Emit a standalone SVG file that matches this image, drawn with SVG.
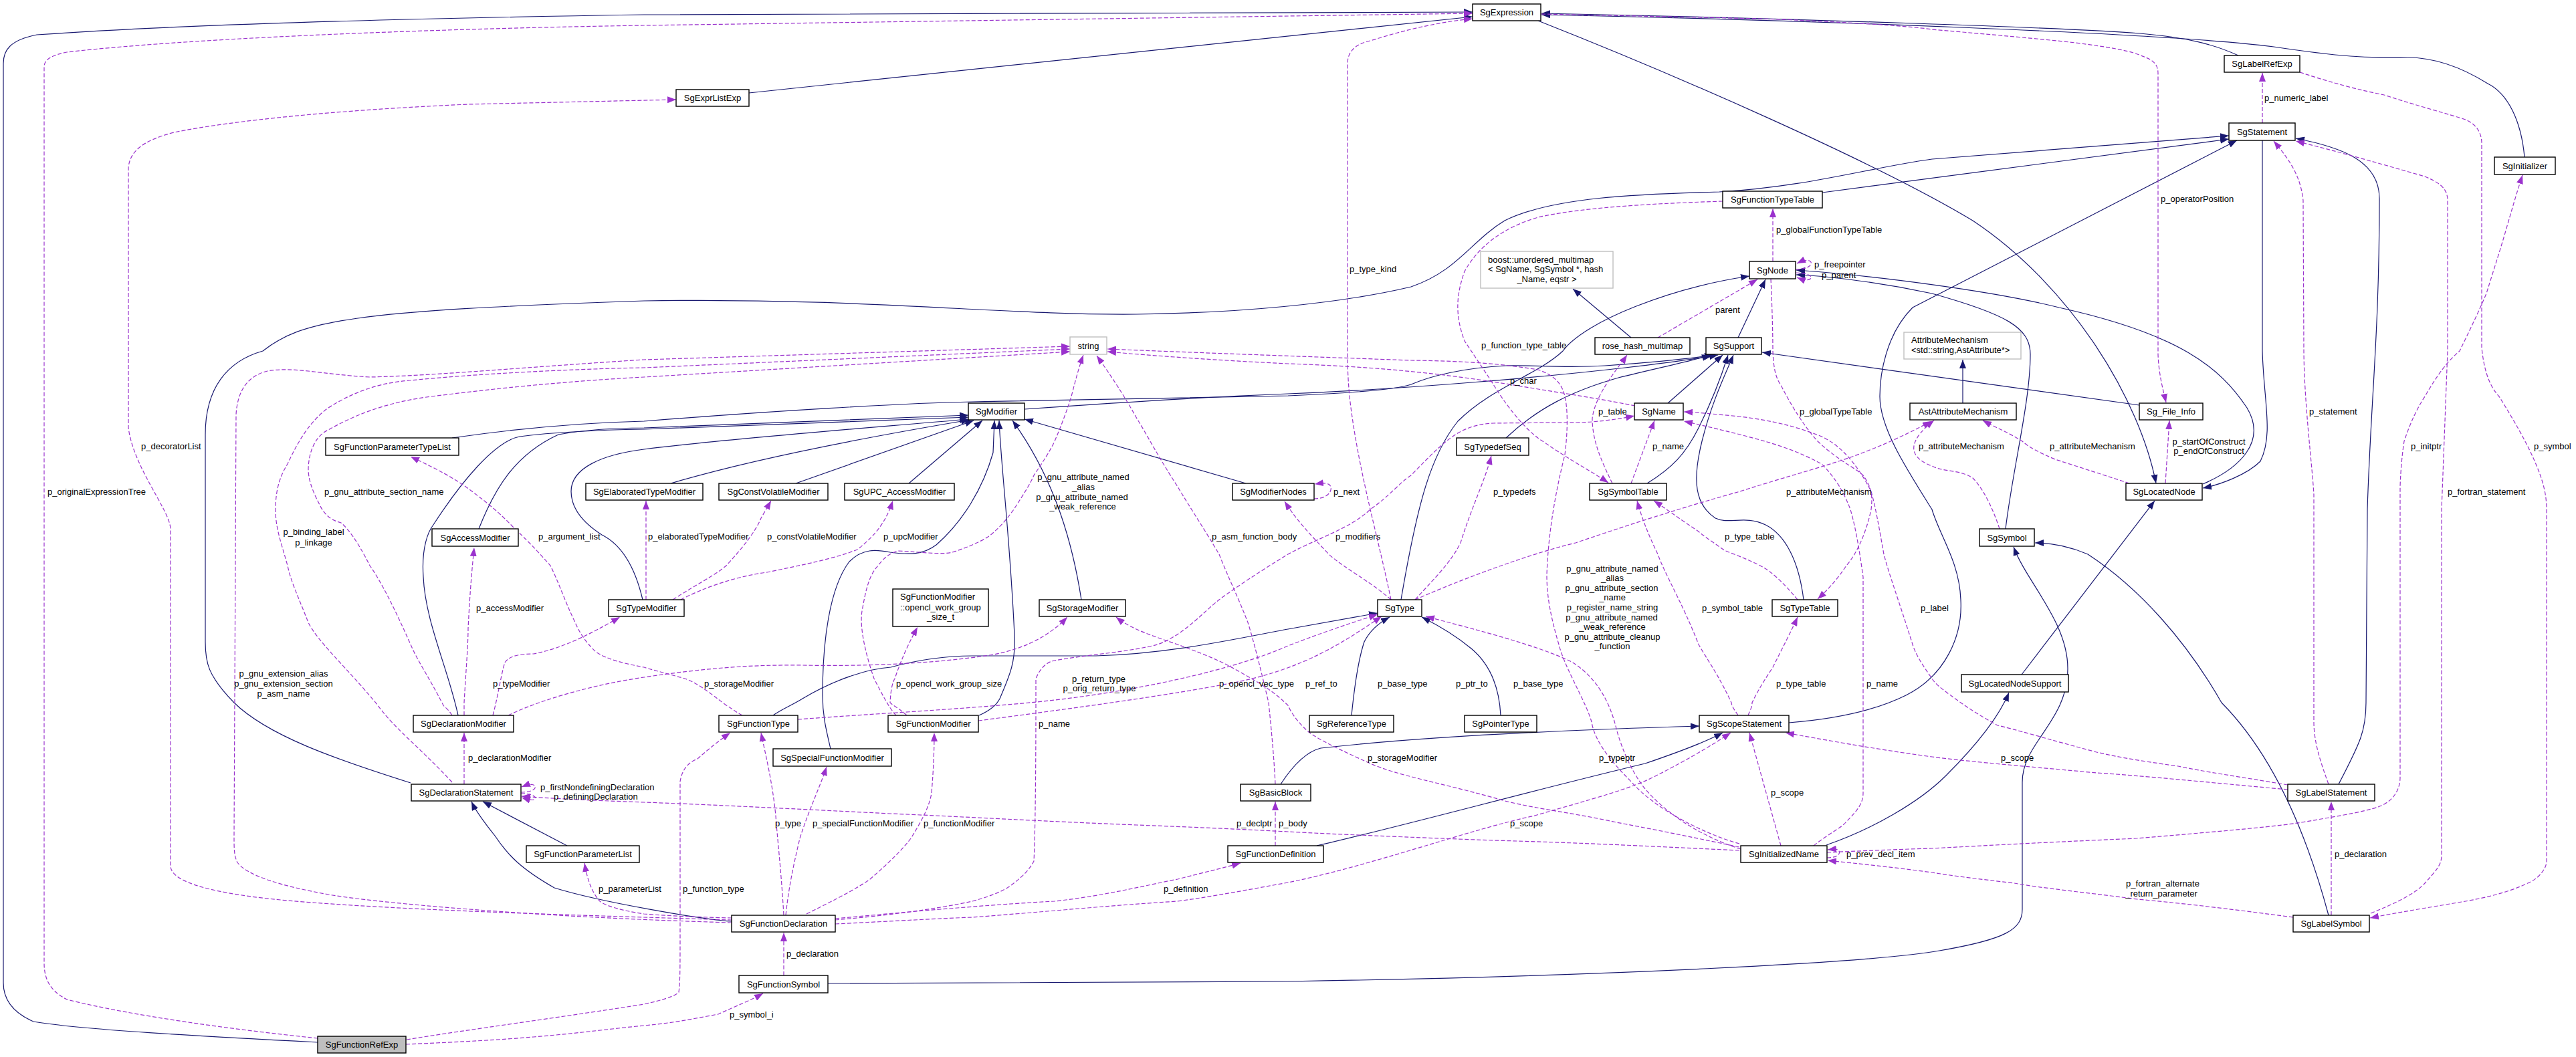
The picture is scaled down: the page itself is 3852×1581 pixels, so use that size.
<svg xmlns="http://www.w3.org/2000/svg" width="3852" height="1581" viewBox="0 0 3852 1581">
<defs>
<style>
.n rect{fill:#fff;stroke:#000;stroke-width:1.4}
.g rect{fill:#fff;stroke:#bfbfbf;stroke-width:1.4}
text{font-family:"Liberation Sans",Arial,sans-serif;font-size:13px;fill:#000}
.n text,.c{text-anchor:middle}
.i{fill:none;stroke:#191970;stroke-width:1.2;marker-end:url(#ai)}
.u{fill:none;stroke:#9a32cd;stroke-width:1.2;stroke-dasharray:6,3;marker-end:url(#au)}
</style>
<marker id="ai" markerWidth="13" markerHeight="10" refX="13" refY="5" orient="auto" markerUnits="userSpaceOnUse"><path d="M0,0 L13,5 L0,10 z" fill="#191970"/></marker>
<marker id="au" markerWidth="13" markerHeight="10" refX="13" refY="5" orient="auto" markerUnits="userSpaceOnUse"><path d="M0,0 L13,5 L0,10 z" fill="#9a32cd"/></marker>
</defs>
<rect width="3852" height="1581" fill="#fff"/>
<g id="edges">
<path class="i" d="M475,1559 C300,1550 120,1540 50,1528 C20,1515 5,1495 5,1470 L5,95 C5,75 15,60 55,52 C300,35 700,26 963,22 L2202,18"/>
<path class="i" d="M1120,139 L2202,25"/>
<path class="i" d="M3347,83 C3310,66 3270,56 3200,50 C3100,42 2700,28 2305,20"/>
<path class="i" d="M3775,235 C3770,180 3750,140 3720,125 C3680,100 3640,86 3600,86 C3540,87 3500,85 3400,70 C3250,50 2700,30 2305,22"/>
<path class="i" d="M2300,31 C2500,110 2800,240 2950,330 C3100,430 3200,600 3224,723"/>
<path class="i" d="M2725,288 L3333,208"/>
<path class="i" d="M614,1171 C500,1135 400,1100 350,1051 C310,1010 307,990 307,960 L307,650 C307,580 340,540 393,525 C450,480 520,465 963,450 C1300,445 1500,472 1700,470 C1850,468 2000,455 2110,429 C2180,405 2200,360 2250,330 C2320,295 2450,290 2571,287 C2700,280 2800,250 2889,238 L3333,203"/>
<path class="i" d="M2675,1081 C2750,1075 2810,1060 2850,1040 C2910,1010 2935,950 2932,897 C2930,840 2900,800 2889,762 C2850,700 2811,640 2811,593 C2811,560 2820,500 2860,460 L3345,210"/>
<path class="i" d="M3497,1173 C3530,1110 3538,1092 3538,1051 L3540,762 C3545,600 3558,500 3558,297 C3558,240 3500,220 3433,207"/>
<path class="i" d="M3383,210 L3383,525 C3385,600 3400,650 3380,690 C3360,710 3320,725 3294,730"/>
<path class="i" d="M3294,724 C3350,700 3390,660 3360,610 C3320,550 3260,500 3079,460 C2980,435 2800,412 2686,404"/>
<path class="i" d="M2999,791 C3010,700 3036,600 3036,530 C3036,490 3000,470 2889,439 C2800,420 2720,412 2686,411"/>
<path class="i" d="M3023,1009 L3222,749"/>
<path class="i" d="M2731,1264 C2800,1240 2870,1200 2910,1160 C2960,1110 2990,1070 3004,1036"/>
<path class="i" d="M3482,1369 C3450,1250 3400,1130 3322,1051 C3270,960 3200,880 3122,829 C3090,815 3060,812 3043,812"/>
<path class="i" d="M1238,1471 L1926,1468 C2400,1460 2800,1440 2900,1422 C3000,1405 3024,1390 3024,1360 L3024,1170 C3024,1110 3092,1080 3092,1000 C3092,930 3030,870 3011,818"/>
<path class="i" d="M2599,505 L2640,418"/>
<path class="i" d="M2095,897 C2120,750 2140,680 2180,630 C2230,580 2300,560 2337,525 C2370,480 2500,430 2616,413"/>
<path class="i" d="M2439,505 L2352,432"/>
<path class="i" d="M676,655 C780,640 880,632 963,630 C1150,615 1350,603 1454,601 C1650,597 1850,594 1926,592 C2020,588 2090,582 2110,575 C2140,562 2190,550 2252,547 C2300,546 2340,551 2400,547 C2470,542 2530,536 2562,531"/>
<path class="i" d="M1532,612 C1700,600 1850,592 1926,589 C2100,582 2300,565 2430,550 C2500,542 2540,536 2569,531"/>
<path class="i" d="M2494,603 L2576,531"/>
<path class="i" d="M2463,723 C2500,700 2520,680 2540,640 C2560,600 2575,560 2584,531"/>
<path class="i" d="M2252,655 C2300,610 2350,585 2420,565 C2480,550 2530,540 2558,531"/>
<path class="i" d="M2697,897 C2690,840 2670,800 2640,785 C2610,770 2585,785 2565,775 C2535,755 2530,720 2545,660 C2560,600 2580,560 2592,531"/>
<path class="i" d="M3199,606 L2635,527"/>
<path class="i" d="M2935,603 L2935,538"/>
<path class="i" d="M1003,723 C1080,700 1200,670 1450,628"/>
<path class="i" d="M1190,723 L1456,629"/>
<path class="i" d="M1359,723 L1469,629"/>
<path class="i" d="M1863,723 L1532,627"/>
<path class="i" d="M1617,897 C1605,820 1580,720 1514,629"/>
<path class="i" d="M1464,1070 C1480,1063 1490,1055 1495,1045 C1510,1010 1519,990 1517,950 C1510,800 1497,700 1494,629"/>
<path class="i" d="M1242,1120 C1235,1090 1230,1070 1230,1040 C1230,960 1240,880 1270,840 C1290,820 1310,822 1331,826 C1360,830 1380,830 1400,815 C1440,780 1470,730 1485,677 L1487,629"/>
<path class="i" d="M961,897 C950,850 930,815 900,800 C872,782 854,760 854,735 C854,700 900,680 963,672 C1100,655 1300,640 1448,627"/>
<path class="i" d="M716,791 C740,730 770,680 835,650 C880,642 920,640 963,640 L1448,621"/>
<path class="i" d="M685,1070 C670,1000 636,930 633,863 C630,820 640,795 648,785 C690,720 740,660 777,653 C840,645 900,643 963,642 L1448,624"/>
<path class="i" d="M1156,1070 C1170,1060 1184,1055 1200,1045 C1250,1015 1300,1000 1332,998 C1380,985 1420,981 1454,981 L1639,981 C1750,978 1850,955 1926,941 L2060,917"/>
<path class="i" d="M2021,1070 C2024,1040 2030,990 2040,960 C2050,940 2065,930 2078,923"/>
<path class="i" d="M2244,1070 C2242,1030 2230,995 2200,970 C2170,945 2140,930 2126,923"/>
<path class="i" d="M1915,1173 C1930,1150 1950,1125 1975,1119 C2100,1105 2300,1093 2541,1086"/>
<path class="i" d="M1969,1265 C2100,1235 2300,1180 2460,1142 C2510,1125 2550,1110 2576,1096"/>
<path class="i" d="M848,1265 L722,1199"/>
<path class="i" d="M1094,1378 C1050,1375 900,1350 829,1328 C780,1300 760,1280 740,1250 C720,1225 710,1210 705,1199"/>
<path class="u" d="M475,1553 C350,1540 200,1520 100,1495 C75,1482 66,1465 66,1440 L66,100 C66,88 80,82 100,78 C300,55 700,42 963,38 L2202,20"/>
<path class="u" d="M1094,1376 C900,1370 600,1362 430,1347 C320,1337 255,1320 255,1295 L255,790 C252,760 200,700 192,640 L192,250 C195,225 215,210 260,198 C350,180 500,165 700,156 L1011,149"/>
<path class="u" d="M1094,1380 C800,1372 560,1350 491,1338 C420,1325 370,1310 355,1290 C350,1280 350,1270 350,1250 L353,620 C355,585 370,562 400,555 C440,548 480,560 553,564 C650,562 800,548 963,538 L1600,518"/>
<path class="u" d="M676,1170 C630,1120 590,1090 565,1055 C520,1000 475,960 461,931 C445,890 435,870 430,846 C420,810 412,790 412,762 C412,730 420,710 430,694 C450,650 470,625 491,610 C530,585 570,572 614,569 C700,560 850,552 963,550 L1600,522"/>
<path class="u" d="M676,1070 C670,1060 665,1058 663,1055 C640,1010 625,990 614,964 C590,910 570,870 553,846 C535,810 520,790 510,782 C495,778 485,770 478,755 C465,730 461,715 461,701 C462,670 475,650 491,643 C540,615 590,600 645,593 C750,580 850,570 963,564 L1600,526"/>
<path class="u" d="M694,1070 L694,1051 C697,1000 700,964 700,940 C703,880 706,850 709,819"/>
<path class="u" d="M737,1070 C745,1040 750,1005 755,991 C762,980 780,978 798,978 C840,970 880,950 927,923"/>
<path class="u" d="M760,1070 C800,1050 880,1025 963,1013 C1050,1000 1120,994 1200,995 C1300,997 1400,992 1480,980 C1540,970 1575,945 1596,923"/>
<path class="u" d="M966,897 L966,749"/>
<path class="u" d="M1006,897 C1040,875 1070,860 1086,846 C1110,820 1130,795 1138,775 L1153,749"/>
<path class="u" d="M1018,897 C1050,880 1100,862 1147,856 C1200,845 1250,835 1282,822 C1310,800 1325,780 1335,749"/>
<path class="u" d="M1110,1070 C1100,1065 1095,1060 1086,1055 C1060,1035 1040,1020 1024,1015 C1000,1008 975,1002 963,998 C930,992 905,985 891,975 C875,960 866,945 860,931 C845,900 835,870 823,846 C800,820 785,805 768,789 C740,760 725,750 706,735 C680,715 650,700 614,683"/>
<path class="u" d="M1193,1076 C1300,1068 1450,1060 1550,1050 C1700,1035 1850,1000 1926,966 C1980,945 2020,932 2060,919"/>
<path class="u" d="M1463,1078 C1600,1060 1750,1040 1850,1020 C1950,1000 2010,960 2066,922"/>
<path class="u" d="M1356,1070 C1345,1060 1335,1055 1331,1051 C1332,1030 1335,1020 1338,1015 C1350,980 1360,960 1372,938"/>
<path class="u" d="M1340,1070 C1330,1060 1320,1040 1307,1015 C1295,980 1285,940 1289,914 C1295,880 1300,860 1313,846 C1325,830 1335,826 1344,824 C1380,826 1410,830 1424,826 C1450,818 1470,808 1479,802 C1500,785 1510,770 1516,762 C1530,740 1540,725 1546,711 C1560,690 1570,675 1577,660 C1590,630 1600,600 1602,593 C1608,570 1613,550 1620,531"/>
<path class="u" d="M1907,1173 C1905,1130 1900,1080 1897,1051 C1885,1000 1875,960 1866,931 C1850,890 1835,860 1823,829 C1800,790 1780,760 1761,728 C1730,680 1715,650 1700,626 C1680,590 1660,560 1640,532"/>
<path class="u" d="M1965,746 C1985,746 1992,735 1990,728 C1988,722 1980,722 1966,724"/>
<path class="u" d="M2080,897 C2050,870 2010,850 1987,829 C1960,800 1940,780 1921,750"/>
<path class="u" d="M2116,897 C2150,860 2170,840 2184,812 C2200,760 2220,720 2230,682"/>
<path class="u" d="M2080,897 C2060,800 2030,700 2018,593 C2015,560 2015,540 2015,520 L2015,95 C2015,75 2030,65 2049,61 C2100,45 2150,33 2202,28"/>
<path class="u" d="M2576,301 C2450,305 2356,312 2300,325 C2245,341 2210,370 2190,406 C2178,440 2175,470 2190,510 C2200,525 2210,540 2230,570 C2260,620 2290,650 2307,660 C2350,690 2380,705 2405,722"/>
<path class="u" d="M2411,723 C2395,690 2381,660 2381,626 C2385,590 2420,550 2433,531"/>
<path class="u" d="M2479,505 L2628,418"/>
<path class="u" d="M2685,403 C2700,403 2710,398 2708,392 C2706,388 2697,389 2687,394"/>
<path class="u" d="M2685,408 C2700,408 2710,412 2708,416 C2706,420 2697,419 2687,415"/>
<path class="u" d="M2651,391 L2651,312"/>
<path class="u" d="M2648,417 C2650,460 2651,500 2651,525 C2652,550 2655,565 2663,576 C2680,610 2700,640 2718,660 C2750,690 2775,700 2786,711 C2800,730 2800,745 2798,762 C2790,800 2775,830 2761,846 C2745,870 2730,885 2718,896"/>
<path class="u" d="M2116,897 C2200,860 2300,825 2356,812 C2450,780 2530,755 2602,735 C2680,710 2740,695 2786,677 C2830,660 2860,645 2888,630"/>
<path class="u" d="M2990,791 C2980,760 2965,730 2950,715 C2930,702 2905,706 2889,697 C2870,690 2860,680 2862,667 C2864,655 2875,642 2892,629"/>
<path class="u" d="M3184,723 C3160,715 3135,707 3073,687 C3050,677 3035,670 3024,660 C3000,645 2985,640 2965,629"/>
<path class="u" d="M3238,723 L3244,629"/>
<path class="u" d="M2305,21 C2450,24 2600,27 2663,29 C2750,33 2850,38 2889,44 C2980,52 3050,58 3104,64 C3150,70 3180,75 3196,81 C3215,88 3227,92 3227,110 L3227,530 C3228,560 3235,585 3239,602"/>
<path class="u" d="M3383,184 L3383,109"/>
<path class="u" d="M3439,108 C3490,125 3530,135 3565,142 C3620,160 3660,170 3687,179 C3700,185 3711,195 3711,215 L3711,520 C3715,560 3725,580 3737,593 C3760,630 3780,665 3792,694 C3803,720 3808,740 3808,762 L3808,1288 C3808,1300 3795,1315 3780,1321 C3750,1335 3720,1342 3687,1348 C3640,1356 3590,1364 3544,1373"/>
<path class="u" d="M2732,1275 C2800,1272 2850,1270 2889,1269 C3000,1263 3100,1258 3196,1254 C3300,1245 3400,1237 3442,1230 C3500,1220 3550,1212 3565,1203 C3580,1195 3589,1180 3589,1163 L3589,728 C3590,700 3592,680 3595,660 C3605,630 3615,610 3626,593 C3645,560 3660,540 3678,525 C3690,500 3705,470 3718,439 C3730,400 3740,370 3749,338 C3760,300 3766,280 3772,262"/>
<path class="u" d="M3545,1366 C3580,1352 3610,1338 3626,1321 C3640,1305 3651,1295 3651,1280 L3651,762 L3660,525 L3660,300 C3660,280 3645,272 3626,264 C3560,245 3490,225 3433,211"/>
<path class="u" d="M3482,1173 C3470,1140 3460,1110 3460,1080 L3460,740 C3458,700 3445,600 3445,520 L3444,300 C3440,260 3420,235 3400,211"/>
<path class="u" d="M3421,1174 C3350,1162 3300,1155 3257,1146 C3200,1138 3170,1133 3135,1125 C3060,1105 3010,1090 2987,1085 C2960,1070 2945,1060 2932,1051 C2910,1035 2895,1025 2889,1015 C2875,995 2865,980 2860,964 C2840,900 2825,860 2817,829 C2810,790 2805,760 2798,735 C2775,690 2750,665 2724,653 C2680,635 2640,628 2602,623 C2570,620 2540,617 2518,616"/>
<path class="u" d="M3421,1181 C3300,1170 3200,1160 3135,1156 C3050,1148 2950,1140 2889,1132 C2800,1120 2720,1105 2670,1096"/>
<path class="u" d="M2663,1265 L2616,1096"/>
<path class="u" d="M1249,1382 C1350,1377 1400,1374 1454,1372 C1550,1365 1650,1355 1761,1348 C1820,1340 1870,1330 1926,1320 C2050,1295 2200,1240 2295,1220 C2380,1195 2440,1180 2479,1159 C2520,1138 2560,1115 2588,1096"/>
<path class="u" d="M1249,1374 C1400,1360 1500,1352 1577,1348 C1650,1340 1710,1325 1761,1315 C1800,1305 1830,1298 1855,1291"/>
<path class="u" d="M1172,1459 L1172,1395"/>
<path class="u" d="M607,1562 C700,1558 750,1555 798,1551 C870,1545 920,1538 963,1534 C1010,1530 1045,1522 1074,1517 C1100,1505 1125,1495 1141,1486"/>
<path class="u" d="M608,1555 C700,1540 850,1520 963,1502 C990,1496 1010,1490 1015,1484 C1017,1470 1017,1450 1017,1389 L1017,1169 C1020,1150 1030,1140 1043,1135 C1060,1120 1075,1108 1092,1096"/>
<path class="u" d="M1172,1369 C1168,1300 1162,1250 1160,1220 C1155,1170 1145,1130 1138,1096"/>
<path class="u" d="M1175,1369 C1180,1320 1190,1280 1196,1254 C1210,1210 1225,1180 1236,1147"/>
<path class="u" d="M1206,1367 C1250,1345 1280,1330 1301,1315 C1330,1290 1350,1270 1362,1254 C1380,1225 1390,1205 1393,1186 C1396,1150 1397,1120 1397,1096"/>
<path class="u" d="M1249,1376 C1320,1370 1400,1360 1454,1348 C1490,1338 1505,1330 1516,1321 C1530,1310 1540,1300 1546,1288 C1548,1250 1549,1150 1549,1051 L1549,1015 C1555,1000 1565,990 1577,988 C1620,980 1690,975 1731,964 C1770,950 1800,915 1823,897 C1860,870 1900,845 1926,829 C1970,805 2020,790 2049,762 C2080,740 2095,720 2110,711 C2140,680 2155,665 2172,653 C2190,640 2210,634 2233,633 C2300,632 2356,633 2380,631 C2405,629 2425,626 2444,622"/>
<path class="u" d="M2712,1265 C2730,1250 2755,1237 2760,1230 C2780,1210 2786,1200 2786,1186 L2786,863 C2780,820 2775,790 2767,762 C2755,730 2740,710 2724,694 C2680,670 2640,660 2602,650 C2570,642 2545,636 2518,630"/>
<path class="u" d="M2439,723 L2474,629"/>
<path class="u" d="M2688,897 C2670,875 2650,855 2632,846 C2600,830 2580,825 2577,822 C2560,810 2545,800 2540,795 C2510,775 2490,760 2473,749"/>
<path class="u" d="M2599,1070 C2594,1062 2590,1058 2589,1051 C2570,1010 2555,990 2540,964 C2515,900 2490,860 2479,829 C2465,800 2455,775 2448,749"/>
<path class="u" d="M2614,1070 C2617,1062 2620,1058 2620,1051 C2630,1030 2640,1015 2651,998 C2665,970 2678,945 2688,923"/>
<path class="u" d="M2603,1270 C2540,1250 2490,1215 2460,1180 C2440,1155 2425,1120 2417,1090 C2405,1040 2380,1008 2350,990 C2300,965 2200,940 2132,922"/>
<path class="u" d="M2601,1262 C2540,1245 2470,1205 2440,1170 C2410,1140 2385,1110 2380,1080 C2372,1050 2340,1000 2331,964 C2318,920 2313,890 2313,860 C2315,800 2325,740 2340,680 C2345,640 2344,610 2340,593 C2335,570 2320,560 2300,553 C2250,545 2200,540 2110,539 C2000,535 1800,528 1656,522"/>
<path class="u" d="M2445,607 C2400,598 2350,590 2300,582 C2200,565 2100,550 1926,544 C1800,538 1700,530 1656,526"/>
<path class="u" d="M2601,1267 C2520,1250 2470,1240 2417,1230 C2350,1215 2280,1208 2233,1193 C2150,1170 2090,1160 2049,1142 C2000,1120 1970,1105 1957,1095 C1940,1080 1930,1065 1926,1055 C1900,1030 1880,1020 1854,1005 C1820,985 1790,975 1761,964 C1720,950 1690,940 1669,923"/>
<path class="u" d="M2601,1272 C2450,1265 2350,1260 2233,1257 C2100,1252 2000,1248 1926,1244 C1850,1240 1780,1237 1700,1234 C1550,1228 1450,1222 1332,1217 C1150,1208 1050,1203 963,1200 C880,1197 820,1194 780,1191"/>
<path class="u" d="M1907,1265 L1907,1199"/>
<path class="u" d="M1094,1373 C1050,1372 1000,1370 963,1367 C930,1362 905,1355 897,1348 C885,1335 878,1315 874,1291"/>
<path class="u" d="M694,1173 L694,1096"/>
<path class="u" d="M779,1185 C795,1185 802,1180 800,1176 C798,1172 790,1173 780,1177"/>
<path class="u" d="M779,1187 C795,1187 802,1191 800,1195 C798,1198 790,1196 780,1193"/>
<path class="u" d="M3486,1369 L3486,1199"/>
<path class="u" d="M3429,1372 C3300,1355 3250,1350 3196,1345 C3120,1335 3050,1328 3012,1321 C2960,1315 2920,1310 2889,1305 C2830,1297 2780,1292 2733,1287"/>
<path class="u" d="M2732,1283 C2748,1283 2752,1277 2750,1273 C2748,1269 2742,1270 2733,1271"/>
</g>
<g id="labels">
<text x="71" y="740">p_originalExpressionTree</text>
<text x="211" y="672">p_decoratorList</text>
<text class="c" x="424" y="1012">p_gnu_extension_alias</text>
<text class="c" x="424" y="1027">p_gnu_extension_section</text>
<text class="c" x="424" y="1042">p_asm_name</text>
<text class="c" x="469" y="800">p_binding_label</text>
<text class="c" x="469" y="816">p_linkage</text>
<text x="485" y="740">p_gnu_attribute_section_name</text>
<text x="805" y="807">p_argument_list</text>
<text x="712" y="914">p_accessModifier</text>
<text x="737" y="1027">p_typeModifier</text>
<text x="969" y="807">p_elaboratedTypeModifier</text>
<text x="1147" y="807">p_constVolatileModifier</text>
<text x="1321" y="807">p_upcModifier</text>
<text class="c" x="1620" y="718">p_gnu_attribute_named</text>
<text class="c" x="1620" y="733">_alias</text>
<text class="c" x="1618" y="748">p_gnu_attribute_named</text>
<text class="c" x="1619" y="762">_weak_reference</text>
<text x="1812" y="807">p_asm_function_body</text>
<text x="1053" y="1027">p_storageModifier</text>
<text x="1340" y="1027">p_opencl_work_group_size</text>
<text class="c" x="1643" y="1020">p_return_type</text>
<text class="c" x="1644" y="1034">p_orig_return_type</text>
<text x="1823" y="1027">p_opencl_vec_type</text>
<text x="2018" y="407">p_type_kind</text>
<text x="2215" y="521">p_function_type_table</text>
<text x="2656" y="348">p_globalFunctionTypeTable</text>
<text x="2565" y="468">parent</text>
<text x="2713" y="400">p_freepointer</text>
<text x="2724" y="416">p_parent</text>
<text x="2258" y="574">p_char</text>
<text x="2390" y="620">p_table</text>
<text x="2691" y="620">p_globalTypeTable</text>
<text x="1994" y="740">p_next</text>
<text x="2233" y="740">p_typedefs</text>
<text x="2471" y="672">p_name</text>
<text x="2671" y="740">p_attributeMechanism</text>
<text x="2869" y="672">p_attributeMechanism</text>
<text x="3065" y="672">p_attributeMechanism</text>
<text class="c" x="3303" y="665">p_startOfConstruct</text>
<text class="c" x="3303" y="679">p_endOfConstruct</text>
<text x="3231" y="302">p_operatorPosition</text>
<text x="3386" y="151">p_numeric_label</text>
<text x="3453" y="620">p_statement</text>
<text x="3605" y="672">p_initptr</text>
<text x="3789" y="672">p_symbol</text>
<text x="3660" y="740">p_fortran_statement</text>
<text x="1997" y="807">p_modifiers</text>
<text x="2579" y="807">p_type_table</text>
<text class="c" x="2411" y="855">p_gnu_attribute_named</text>
<text class="c" x="2411" y="869">_alias</text>
<text class="c" x="2410" y="884">p_gnu_attribute_section</text>
<text class="c" x="2411" y="898">_name</text>
<text class="c" x="2411" y="913">p_register_name_string</text>
<text class="c" x="2410" y="928">p_gnu_attribute_named</text>
<text class="c" x="2411" y="942">_weak_reference</text>
<text class="c" x="2411" y="957">p_gnu_attribute_cleanup</text>
<text class="c" x="2411" y="971">_function</text>
<text x="2545" y="914">p_symbol_table</text>
<text x="2872" y="914">p_label</text>
<text x="1952" y="1027">p_ref_to</text>
<text x="2060" y="1027">p_base_type</text>
<text x="2177" y="1027">p_ptr_to</text>
<text x="2263" y="1027">p_base_type</text>
<text x="2656" y="1027">p_type_table</text>
<text x="2791" y="1027">p_name</text>
<text x="700" y="1138">p_declarationModifier</text>
<text x="2045" y="1138">p_storageModifier</text>
<text x="2391" y="1138">p_typeptr</text>
<text x="2992" y="1138">p_scope</text>
<text x="808" y="1182">p_firstNondefiningDeclaration</text>
<text x="828" y="1196">p_definingDeclaration</text>
<text x="1553" y="1087">p_name</text>
<text x="1159" y="1236">p_type</text>
<text x="1215" y="1236">p_specialFunctionModifier</text>
<text x="1381" y="1236">p_functionModifier</text>
<text x="1849" y="1236">p_declptr</text>
<text x="1912" y="1236">p_body</text>
<text x="2258" y="1236">p_scope</text>
<text x="2648" y="1190">p_scope</text>
<text x="2761" y="1282">p_prev_decl_item</text>
<text x="3491" y="1282">p_declaration</text>
<text class="c" x="3234" y="1326">p_fortran_alternate</text>
<text class="c" x="3232" y="1341">_return_parameter</text>
<text x="895" y="1334">p_parameterList</text>
<text x="1021" y="1334">p_function_type</text>
<text x="1740" y="1334">p_definition</text>
<text x="1176" y="1431">p_declaration</text>
<text x="1091" y="1522">p_symbol_i</text>
</g>
<g id="n_SgFunctionRefExp" class="n"><rect x="475" y="1550" width="132" height="25" style="fill:#bfbfbf"/><text x="541" y="1567">SgFunctionRefExp</text></g>
<g id="n_SgExpression" class="n"><rect x="2202" y="6" width="102" height="25"/><text x="2253" y="23">SgExpression</text></g>
<g id="n_SgExprListExp" class="n"><rect x="1011" y="134" width="109" height="25"/><text x="1065.5" y="151">SgExprListExp</text></g>
<g id="n_SgLabelRefExp" class="n"><rect x="3326" y="83" width="113" height="25"/><text x="3382.5" y="100">SgLabelRefExp</text></g>
<g id="n_SgStatement" class="n"><rect x="3333" y="184" width="99" height="26"/><text x="3382.5" y="201.5">SgStatement</text></g>
<g id="n_SgInitializer" class="n"><rect x="3730" y="235" width="91" height="26"/><text x="3775.5" y="252.5">SgInitializer</text></g>
<g id="n_SgFunctionTypeTable" class="n"><rect x="2576" y="286" width="149" height="25"/><text x="2650.5" y="303">SgFunctionTypeTable</text></g>
<g id="n_boost" class="g"><rect x="2214" y="376" width="198" height="55"/><text x="2225" y="393">boost::unordered_multimap</text><text x="2225" y="407">&lt; SgName, SgSymbol *, hash</text><text class="c" x="2313" y="422">_Name, eqstr &gt;</text></g>
<g id="n_SgNode" class="n"><rect x="2616" y="391" width="69" height="26"/><text x="2650.5" y="408.5">SgNode</text></g>
<g id="n_rose_hash_multimap" class="n"><rect x="2385" y="505" width="142" height="25"/><text x="2456" y="522">rose_hash_multimap</text></g>
<g id="n_SgSupport" class="n"><rect x="2551" y="505" width="83" height="25"/><text x="2592.5" y="522">SgSupport</text></g>
<g id="n_AttributeMechanism" class="g"><rect x="2847" y="497" width="175" height="40"/><text x="2858" y="513">AttributeMechanism</text><text x="2858" y="528">&lt;std::string,AstAttribute*&gt;</text></g>
<g id="n_string" class="g"><rect x="1600" y="504" width="55" height="26"/><text class="c" x="1627.5" y="521.5">string</text></g>
<g id="n_SgFunctionParameterTypeList" class="n"><rect x="487" y="655" width="199" height="26"/><text x="586.5" y="672.5">SgFunctionParameterTypeList</text></g>
<g id="n_SgAccessModifier" class="n"><rect x="646" y="791" width="129" height="26"/><text x="710.5" y="808.5">SgAccessModifier</text></g>
<g id="n_SgElaboratedTypeModifier" class="n"><rect x="876" y="723" width="175" height="25"/><text x="963.5" y="740">SgElaboratedTypeModifier</text></g>
<g id="n_SgConstVolatileModifier" class="n"><rect x="1075" y="723" width="163" height="25"/><text x="1156.5" y="740">SgConstVolatileModifier</text></g>
<g id="n_SgUPC_AccessModifier" class="n"><rect x="1263" y="723" width="164" height="25"/><text x="1345" y="740">SgUPC_AccessModifier</text></g>
<g id="n_SgModifier" class="n"><rect x="1448" y="603" width="84" height="25"/><text x="1490" y="620">SgModifier</text></g>
<g id="n_SgModifierNodes" class="n"><rect x="1843" y="723" width="122" height="25"/><text x="1904" y="740">SgModifierNodes</text></g>
<g id="n_SgTypeModifier" class="n"><rect x="910" y="897" width="113" height="25"/><text x="966.5" y="914">SgTypeModifier</text></g>
<g id="n_opencl_work_group_size_t" class="n"><rect x="1335" y="881" width="143" height="56"/><text x="1346" y="897" style="text-anchor:start">SgFunctionModifier</text><text x="1346" y="913" style="text-anchor:start">::opencl_work_group</text><text x="1406.5" y="927">_size_t</text></g>
<g id="n_SgStorageModifier" class="n"><rect x="1554" y="897" width="129" height="25"/><text x="1618.5" y="914">SgStorageModifier</text></g>
<g id="n_SgName" class="n"><rect x="2444" y="603" width="73" height="25"/><text x="2480.5" y="620">SgName</text></g>
<g id="n_SgTypedefSeq" class="n"><rect x="2178" y="655" width="108" height="26"/><text x="2232" y="672.5">SgTypedefSeq</text></g>
<g id="n_SgSymbolTable" class="n"><rect x="2377" y="723" width="115" height="25"/><text x="2434.5" y="740">SgSymbolTable</text></g>
<g id="n_SgType" class="n"><rect x="2060" y="897" width="66" height="25"/><text x="2093" y="914">SgType</text></g>
<g id="n_SgTypeTable" class="n"><rect x="2650" y="897" width="98" height="25"/><text x="2699" y="914">SgTypeTable</text></g>
<g id="n_AstAttributeMechanism" class="n"><rect x="2856" y="603" width="159" height="25"/><text x="2935.5" y="620">AstAttributeMechanism</text></g>
<g id="n_Sg_File_Info" class="n"><rect x="3199" y="603" width="95" height="25"/><text x="3246.5" y="620">Sg_File_Info</text></g>
<g id="n_SgLocatedNode" class="n"><rect x="3179" y="723" width="114" height="25"/><text x="3236" y="740">SgLocatedNode</text></g>
<g id="n_SgSymbol" class="n"><rect x="2960" y="791" width="82" height="26"/><text x="3001" y="808.5">SgSymbol</text></g>
<g id="n_SgLocatedNodeSupport" class="n"><rect x="2933" y="1009" width="160" height="26"/><text x="3013" y="1026.5">SgLocatedNodeSupport</text></g>
<g id="n_SgDeclarationModifier" class="n"><rect x="618" y="1070" width="150" height="25"/><text x="693" y="1087">SgDeclarationModifier</text></g>
<g id="n_SgDeclarationStatement" class="n"><rect x="615" y="1173" width="164" height="25"/><text x="697" y="1190">SgDeclarationStatement</text></g>
<g id="n_SgFunctionParameterList" class="n"><rect x="787" y="1265" width="169" height="25"/><text x="871.5" y="1282">SgFunctionParameterList</text></g>
<g id="n_SgFunctionType" class="n"><rect x="1075" y="1070" width="118" height="25"/><text x="1134" y="1087">SgFunctionType</text></g>
<g id="n_SgFunctionModifier" class="n"><rect x="1328" y="1070" width="135" height="25"/><text x="1395.5" y="1087">SgFunctionModifier</text></g>
<g id="n_SgSpecialFunctionModifier" class="n"><rect x="1156" y="1120" width="177" height="26"/><text x="1244.5" y="1137.5">SgSpecialFunctionModifier</text></g>
<g id="n_SgBasicBlock" class="n"><rect x="1855" y="1173" width="105" height="25"/><text x="1907.5" y="1190">SgBasicBlock</text></g>
<g id="n_SgFunctionDefinition" class="n"><rect x="1836" y="1265" width="143" height="25"/><text x="1907.5" y="1282">SgFunctionDefinition</text></g>
<g id="n_SgFunctionDeclaration" class="n"><rect x="1094" y="1369" width="155" height="25"/><text x="1171.5" y="1386">SgFunctionDeclaration</text></g>
<g id="n_SgFunctionSymbol" class="n"><rect x="1105" y="1459" width="133" height="26"/><text x="1171.5" y="1476.5">SgFunctionSymbol</text></g>
<g id="n_SgReferenceType" class="n"><rect x="1958" y="1070" width="126" height="25"/><text x="2021" y="1087">SgReferenceType</text></g>
<g id="n_SgPointerType" class="n"><rect x="2190" y="1070" width="108" height="25"/><text x="2244" y="1087">SgPointerType</text></g>
<g id="n_SgScopeStatement" class="n"><rect x="2541" y="1070" width="134" height="25"/><text x="2608" y="1087">SgScopeStatement</text></g>
<g id="n_SgInitializedName" class="n"><rect x="2603" y="1265" width="129" height="25"/><text x="2667.5" y="1282">SgInitializedName</text></g>
<g id="n_SgLabelStatement" class="n"><rect x="3421" y="1173" width="130" height="25"/><text x="3486" y="1190">SgLabelStatement</text></g>
<g id="n_SgLabelSymbol" class="n"><rect x="3429" y="1369" width="114" height="25"/><text x="3486" y="1386">SgLabelSymbol</text></g>
</svg>
